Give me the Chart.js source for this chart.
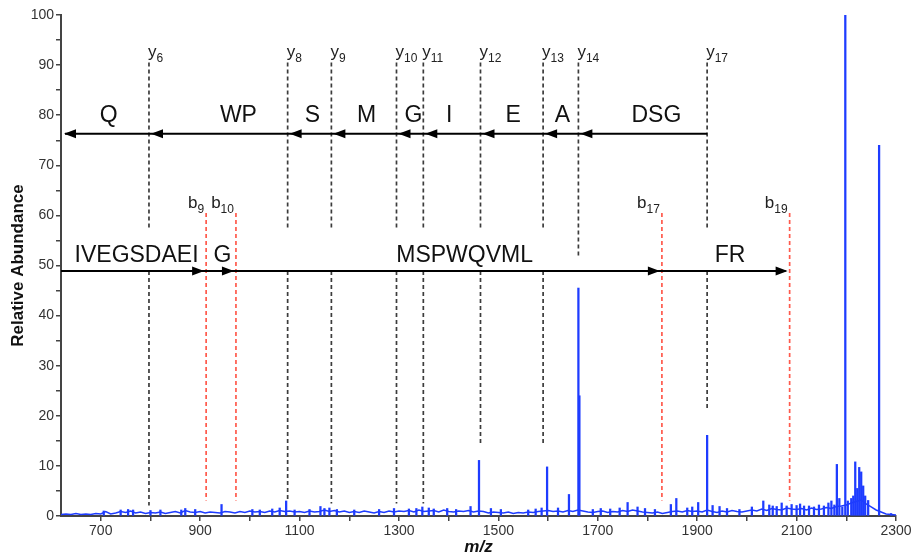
<!DOCTYPE html>
<html>
<head>
<meta charset="utf-8">
<title>MS/MS spectrum</title>
<script src="https://cdn.jsdelivr.net/npm/chart.js@4.4.1/dist/chart.umd.min.js"></script>
<style>
  html, body { margin: 0; padding: 0; background: #ffffff; }
  canvas { display: block; }
</style>
</head>
<body>
<canvas id="spectrumChart" width="911" height="554"></canvas>
<script>
// Spectrum values

// m/z axis ticks (labelled every 200)
const mzTicks = [700, 800, 900, 1000, 1100, 1200, 1300, 1400, 1500, 1600, 1700, 1800, 1900, 2000, 2100, 2200, 2300];
const mzTickLabels = ['700', '', '900', '', '1100', '', '1300', '', '1500', '', '1700', '', '1900', '', '2100', '', '2300'];

// baseline trace
const baselineMz = [
    620, 630, 640, 650, 660, 670, 680, 690, 700, 710, 720,
    730, 740, 750, 760, 770, 780, 790, 800,
    810, 820, 830, 840, 850, 860, 870, 880, 890, 900,
    910, 920, 930, 940, 950, 960, 970, 980, 990, 1000,
    1010, 1020, 1030, 1040, 1050, 1060, 1070, 1080, 1090, 1100,
    1110, 1120, 1130, 1140, 1150, 1160, 1170, 1180, 1190, 1200,
    1210, 1220, 1230, 1240, 1250, 1260, 1270, 1280, 1290, 1300,
    1310, 1320, 1330, 1340, 1350, 1360, 1370, 1380, 1390, 1400,
    1410, 1420, 1430, 1440, 1450, 1460, 1470, 1480, 1490, 1500,
    1510, 1520, 1530, 1540, 1550, 1560, 1570, 1580, 1590, 1600,
    1610, 1620, 1630, 1640, 1650, 1660, 1670, 1680, 1690, 1700,
    1710, 1720, 1730, 1740, 1750, 1760, 1770, 1780, 1790, 1800,
    1810, 1820, 1830, 1840, 1850, 1860, 1870, 1880, 1890, 1900,
    1910, 1920, 1930, 1940, 1950, 1960, 1970, 1980, 1990, 2000,
    2010, 2020, 2030, 2040, 2050, 2060, 2070, 2080, 2090, 2100,
    2110, 2120, 2130, 2140, 2150, 2160, 2170, 2180, 2190, 2200,
    2210, 2220, 2230, 2240, 2250, 2260, 2270,
    2280, 2290, 2300
];
const baselineIntensity = [
    0.3, 0.4, 0.3, 0.5, 0.3, 0.4, 0.3, 0.5, 0.4, 0.9, 0.4,
    0.6, 0.9, 0.7, 1.0, 0.6, 0.8, 0.5, 0.7,
    0.6, 0.8, 0.5, 0.7, 0.9, 0.6, 1.1, 0.8, 0.7, 0.9,
    0.6, 0.8, 0.7, 0.6, 0.9, 0.8, 0.6, 0.9, 0.7, 1.0,
    0.8, 0.9, 0.7, 1.0, 0.8, 1.1, 0.9, 1.0, 0.8, 0.9,
    0.7, 1.0, 0.8, 0.9, 1.2, 0.9, 1.1, 0.8, 1.0, 0.7,
    0.9, 0.7, 1.0, 0.8, 0.6, 0.9, 0.7, 1.0, 0.8, 1.0,
    0.9, 1.1, 0.8, 1.2, 0.9, 1.0, 1.1, 0.8, 1.2, 0.9,
    0.8, 1.0, 0.9, 1.1, 0.8, 1.0, 0.9, 0.6, 0.8, 0.7,
    0.6, 0.8, 0.5, 0.7, 0.6, 0.8, 0.7, 0.9, 1.0, 1.1,
    0.9, 1.0, 0.8, 1.1, 0.9, 1.2, 1.0, 0.8, 0.7, 0.9,
    1.0, 0.7, 0.9, 0.8, 1.1, 0.9, 1.2, 1.0, 0.8, 0.7,
    0.6, 0.8, 0.5, 0.7, 0.9, 1.0, 0.8, 1.1, 0.9, 1.0,
    0.8, 1.2, 0.9, 0.7, 1.0, 0.8, 1.1, 0.9, 0.8, 1.0,
    1.2, 1.0, 1.4, 1.1, 1.5, 1.3, 1.2, 1.6, 1.4, 1.3,
    1.5, 1.2, 1.6, 1.3, 1.4, 1.7, 1.5, 1.9, 2.0, 2.2,
    2.6, 2.9, 3.2, 2.4, 1.8, 1.2, 0.8,
    0.4, 0.3, 0.2
];

// fragment peaks and small noise spikes drawn as sticks
const peakMz = [
    706, 740, 755, 765, 800, 820, 862, 870, 890, 943,
    1005, 1020, 1045, 1060, 1073, 1090, 1120, 1142, 1150, 1160,
    1175, 1210, 1260, 1290, 1320, 1335, 1347, 1360, 1370, 1397,
    1415, 1444, 1461, 1485, 1505, 1560, 1575, 1587, 1598, 1620,
    1642, 1661, 1663, 1690, 1706, 1725, 1744, 1760, 1780, 1795,
    1815, 1847, 1858, 1880, 1890, 1902, 1920, 1931, 1945, 1960,
    1985, 2010, 2033, 2045, 2052, 2060, 2070, 2080, 2090, 2100,
    2107, 2115, 2125, 2135, 2145, 2155, 2164, 2170, 2176, 2181,
    2186, 2192, 2198, 2203, 2210, 2214, 2218, 2222, 2226, 2230,
    2234, 2238, 2244, 2266, 2290
];
const peakIntensity = [
    1.0, 1.2, 1.3, 1.2, 1.1, 1.2, 1.2, 1.5, 1.3, 2.3,
    1.3, 1.2, 1.4, 1.6, 3.0, 1.2, 1.3, 1.9, 1.5, 1.6,
    1.3, 1.2, 1.3, 1.5, 1.4, 1.5, 1.8, 1.6, 1.4, 1.5,
    1.3, 1.9, 11.1, 1.5, 1.3, 1.2, 1.4, 1.6, 9.8, 1.6,
    4.3, 45.5, 24.0, 1.3, 1.5, 1.4, 1.6, 2.7, 1.8, 1.5,
    1.3, 2.3, 3.5, 1.6, 1.8, 2.7, 16.1, 2.1, 1.9, 1.5,
    1.3, 1.8, 3.0, 2.2, 2.0, 1.9, 2.6, 2.0, 2.3, 2.1,
    2.4, 2.0, 2.0, 1.8, 2.2, 2.0, 2.6, 3.0, 2.2, 10.3,
    3.5, 1.8, 100, 3.0, 3.5, 4.0, 10.8, 5.5, 9.7, 8.8,
    6.0, 4.0, 3.1, 74.0, 0.5
];

// y-ion cleavage sites
const yIonNames = ['6', '8', '9', '10', '11', '12', '13', '14', '17'];
const yIonMz = [797, 1076, 1164, 1295, 1349, 1464, 1590, 1661, 1920];
const yResidues = ['Q', 'WP', 'S', 'M', 'G', 'I', 'E', 'A', 'DSG'];
const yResidueMz = [716, 977, 1126, 1235, 1329, 1401, 1530, 1629, 1818];

// b-ion cleavage sites
const bIonNames = ['9', '10', '17', '19'];
const bIonMz = [912, 972, 1829, 2086];
const bResidues = ['IVEGSDAEI', 'G', 'MSPWQVML', 'FR'];
const bResidueMz = [772, 945, 1432, 1966];

// where the dashed lines stop (relative abundance)
const yLineUpperEnd = [57, 57, 57, 57, 57, 57, 57, 51.5, 57];
const yLineLowerEnd = [2.1, 3.1, 2.5, 2.5, 2.5, 14.5, 14.5, null, 21];

// annotation rows (relative abundance)
const Y_LINE_TOP = 90.5;
const Y_LABEL = 91.7;
const Y_ARROW = 76.3;
const Y_RESIDUE = 78.6;
const B_LINE_TOP = 60.5;
const B_LINE_END = 3.1;
const B_LABEL = 61.4;
const B_ARROW = 48.9;
const B_RESIDUE = 50.6;

const FONT = '"Liberation Sans", Arial, Helvetica, sans-serif';
const SPECTRUM_BLUE = '#1e3cff';
const Y_LINE_COLOR = '#3c3c3c';
const B_LINE_COLOR = '#ff5a4c';

function dashedLine(ctx, px, y1, y2, color) {
    ctx.save();
    ctx.strokeStyle = color;
    ctx.lineWidth = 1.7;
    ctx.setLineDash([4, 3]);
    ctx.beginPath();
    ctx.moveTo(px, y1);
    ctx.lineTo(px, y2);
    ctx.stroke();
    ctx.restore();
}

function arrowHead(ctx, tipX, tipY, dir) {
    // dir: -1 points left, 1 points right
    ctx.beginPath();
    ctx.moveTo(tipX, tipY);
    ctx.lineTo(tipX - dir * 12, tipY - 4.5);
    ctx.lineTo(tipX - dir * 12, tipY + 4.5);
    ctx.closePath();
    ctx.fill();
}

function ionLabel(ctx, letter, sub, px, baseline, align) {
    ctx.font = '17px ' + FONT;
    const w1 = ctx.measureText(letter).width;
    ctx.font = '12px ' + FONT;
    const w2 = ctx.measureText(sub).width;
    const start = align === 'right' ? px - w1 - w2 : px;
    ctx.textAlign = 'left';
    ctx.textBaseline = 'alphabetic';
    ctx.font = '17px ' + FONT;
    ctx.fillText(letter, start, baseline);
    ctx.font = '12px ' + FONT;
    ctx.fillText(sub, start + w1, baseline + 5);
}

const fragmentPlugin = {
    id: 'fragmentAnnotations',
    afterDatasetsDraw(chart) {
        const { ctx, chartArea } = chart;
        const x = chart.scales.x;
        const y = chart.scales.y;

        ctx.save();
        ctx.fillStyle = '#222222';

        // y-ion dashed lines and labels
        yIonMz.forEach((mz, i) => {
            const px = x.getPixelForValue(mz);
            dashedLine(ctx, px, y.getPixelForValue(Y_LINE_TOP), y.getPixelForValue(yLineUpperEnd[i]), Y_LINE_COLOR);
            if (yLineLowerEnd[i] !== null) {
                dashedLine(ctx, px, y.getPixelForValue(B_ARROW), y.getPixelForValue(yLineLowerEnd[i]), Y_LINE_COLOR);
            }
            ionLabel(ctx, 'y', yIonNames[i], px - 1, y.getPixelForValue(Y_LABEL), 'left');
        });

        // b-ion dashed lines and labels
        bIonMz.forEach((mz, i) => {
            const px = x.getPixelForValue(mz);
            dashedLine(ctx, px, y.getPixelForValue(B_LINE_TOP), y.getPixelForValue(B_LINE_END), B_LINE_COLOR);
            ionLabel(ctx, 'b', bIonNames[i], px - 2, y.getPixelForValue(B_LABEL), 'right');
        });

        // y-ion arrows (pointing left)
        ctx.fillStyle = '#000000';
        ctx.strokeStyle = '#000000';
        ctx.lineWidth = 2;
        const yRow = y.getPixelForValue(Y_ARROW);
        ctx.beginPath();
        ctx.moveTo(x.getPixelForValue(yIonMz[yIonMz.length - 1]), yRow);
        ctx.lineTo(chartArea.left + 4, yRow);
        ctx.stroke();
        yIonMz.slice(0, -1).forEach(mz => arrowHead(ctx, x.getPixelForValue(mz) + 2, yRow, -1));
        arrowHead(ctx, chartArea.left + 3, yRow, -1);

        // b-ion arrows (pointing right)
        const bRow = y.getPixelForValue(B_ARROW);
        ctx.beginPath();
        ctx.moveTo(chartArea.left, bRow);
        ctx.lineTo(x.getPixelForValue(bIonMz[bIonMz.length - 1]) - 4, bRow);
        ctx.stroke();
        bIonMz.forEach(mz => arrowHead(ctx, x.getPixelForValue(mz) - 2, bRow, 1));

        // residue letters
        ctx.fillStyle = '#111111';
        ctx.font = '23px ' + FONT;
        ctx.textAlign = 'center';
        ctx.textBaseline = 'alphabetic';
        yResidues.forEach((res, i) => {
            ctx.fillText(res, x.getPixelForValue(yResidueMz[i]), y.getPixelForValue(Y_RESIDUE));
        });
        bResidues.forEach((res, i) => {
            ctx.fillText(res, x.getPixelForValue(bResidueMz[i]), y.getPixelForValue(B_RESIDUE));
        });

        ctx.restore();
    }
};

const axisColor = '#444444';

new Chart(document.getElementById('spectrumChart'), {
    type: 'line',
    data: {
        datasets: [
            {
                type: 'bar',
                data: peakMz.map((mz, i) => ({ x: mz, y: peakIntensity[i] })),
                backgroundColor: SPECTRUM_BLUE,
                borderWidth: 0,
                barThickness: 1.6,
                grouped: false,
                order: 1
            },
            {
                type: 'line',
                data: baselineMz.map((mz, i) => ({ x: mz, y: baselineIntensity[i] })),
                borderColor: SPECTRUM_BLUE,
                borderWidth: 1.5,
                pointRadius: 0,
                tension: 0,
                order: 2
            }
        ]
    },
    options: {
        responsive: false,
        animation: false,
        events: [],
        layout: { padding: { top: 15, right: 15, left: 0, bottom: 0 } },
        plugins: {
            legend: { display: false },
            tooltip: { enabled: false }
        },
        scales: {
            x: {
                type: 'linear',
                min: 620,
                max: 2300,
                offset: false,
                border: { display: true, color: axisColor, width: 2 },
                grid: { drawOnChartArea: false, drawTicks: true, tickLength: 5, color: axisColor, lineWidth: 1.5, offset: false },
                afterBuildTicks: scale => {
                    scale.ticks = mzTicks.map(v => ({ value: v }));
                },
                afterFit: scale => {
                    scale.height = 38;
                    scale.paddingLeft = 0;
                    scale.paddingRight = 0;
                },
                ticks: {
                    autoSkip: false,
                    maxRotation: 0,
                    padding: 2,
                    color: '#333333',
                    font: { family: FONT, size: 14 },
                    callback: (value, index) => mzTickLabels[index]
                },
                title: {
                    display: true,
                    text: 'm/z',
                    color: '#111111',
                    font: { family: FONT, size: 17, weight: 'bold', style: 'italic' },
                    padding: { top: 0, bottom: -4 }
                }
            },
            y: {
                min: 0,
                max: 100,
                border: { display: true, color: axisColor, width: 2 },
                grid: { drawOnChartArea: false, drawTicks: true, tickLength: 5, color: axisColor, lineWidth: 1.5 },
                afterFit: scale => { scale.width = 61; },
                ticks: {
                    stepSize: 5,
                    autoSkip: false,
                    padding: 2,
                    color: '#333333',
                    font: { family: FONT, size: 14 },
                    callback: value => (value % 10 === 0 ? value : '')
                },
                title: {
                    display: true,
                    text: 'Relative Abundance',
                    color: '#111111',
                    font: { family: FONT, size: 17, weight: 'bold' },
                    padding: { top: 8, bottom: 0 }
                }
            }
        }
    },
    plugins: [fragmentPlugin]
});
</script>
</body>
</html>
